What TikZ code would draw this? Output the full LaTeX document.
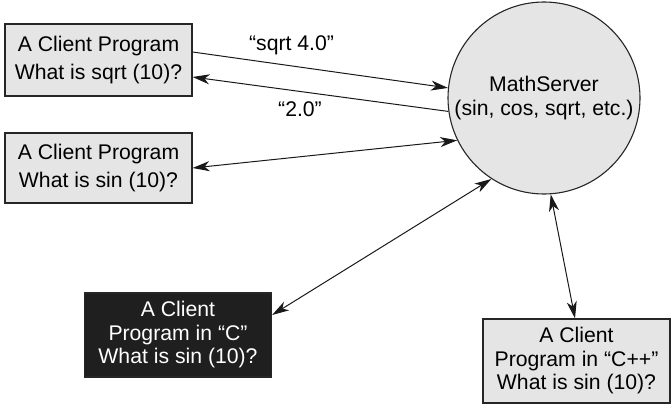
\documentclass[tikz,border=0pt]{standalone}
\usepackage{fontspec}
\setmainfont{Liberation Sans}
\usetikzlibrary{arrows.meta}
\begin{document}
\begin{tikzpicture}[x=1pt,y=-1pt,
  every node/.style={align=center, inner sep=0pt},
  wide/.style={font=\fontsize{21.2}{28}\selectfont},
  tight/.style={font=\fontsize{21.2}{23.5}\selectfont},
  client/.style={draw=black!85, line width=1.2pt, fill=black!10, rectangle, minimum width=187pt},
  dark/.style={draw=black!85, line width=1.2pt, fill=black!88, text=white, rectangle, minimum width=187pt},
  server/.style={draw=black!85, line width=1.1pt, fill=black!10, circle, minimum size=192pt},
  conn/.style={line width=1pt, draw=black!90},
  tip/.style={-{Stealth[length=17pt,width=10pt,inset=5pt]}},
  both/.style={{Stealth[length=17pt,width=10pt,inset=5pt]}-{Stealth[length=17pt,width=10pt,inset=5pt]}}]
\useasboundingbox (0,0) rectangle (671,406);
\node[server, tight] (srv) at (544,98) {MathServer\\(sin, cos, sqrt, etc.)};
\node[client, wide, minimum height=72pt] (b1) at (98.5,60) {A Client Program\\What is sqrt (10)?};
\node[client, wide, minimum height=70pt] (b2) at (98.5,168) {A Client Program\\What is sin (10)?};
\node[dark, tight, minimum height=84pt] (bc) at (178,335) {A Client\\Program in “C”\\What is sin (10)?};
\node[client, tight, minimum height=84pt] (bcpp) at (576.5,361) {A Client\\Program in “C++”\\What is sin (10)?};
\node[wide] (l1) at (291.5,45) {“sqrt 4.0”};
\node[wide] (l2) at (300,109) {“2.0”};
\draw[conn,tip] ([yshift=8pt]b1.east) -- (srv.174.7);
\draw[conn,tip] (srv.188.8) -- ([yshift=-17pt]b1.east);
\draw[conn,both] (b2.east) -- (srv.206);
\draw[conn,both] ([yshift=20pt]bc.east) -- (srv.237.6);
\draw[conn,both] ([xshift=-1.5pt]bcpp.north) -- (srv.274.7);
\end{tikzpicture}
\end{document}
